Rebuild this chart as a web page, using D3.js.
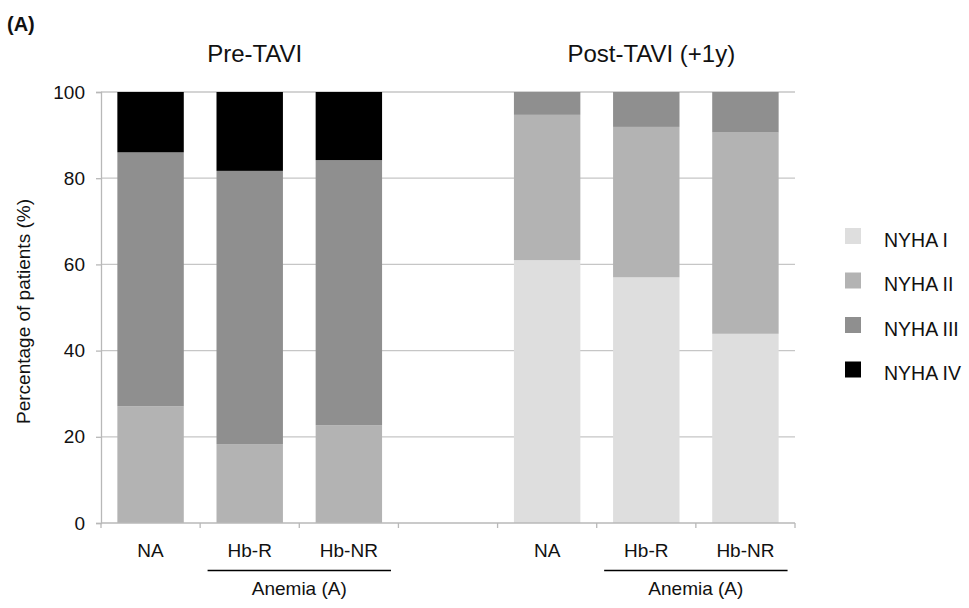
<!DOCTYPE html>
<html>
<head>
<meta charset="utf-8">
<script src="https://cdn.jsdelivr.net/npm/d3@7/dist/d3.min.js"></script>
<style>
  html, body { margin: 0; padding: 0; background: #fff; }
  svg { display: block; font-family: "Liberation Sans", Arial, sans-serif; }
</style>
</head>
<body>
<svg id="chart" width="969" height="608"></svg>
<script>
// Slots along the x axis: three pre-TAVI groups, an empty spacer, three post-TAVI groups
const slots = ["pre-NA", "pre-HbR", "pre-HbNR", "gap", "post-NA", "post-HbR", "post-HbNR"];
const slotLabels = ["NA", "Hb-R", "Hb-NR", "", "NA", "Hb-R", "Hb-NR"];
const barSlots = ["pre-NA", "pre-HbR", "pre-HbNR", "post-NA", "post-HbR", "post-HbNR"];

// Percentage of patients in each NYHA class
const nyhaI   = [0,    0,    0,    61.0, 57.0, 43.9];
const nyhaII  = [27.1, 18.3, 22.7, 33.7, 34.9, 46.7];
const nyhaIII = [58.9, 63.4, 61.5, 5.3,  8.1,  9.4];
const nyhaIV  = [14.0, 18.3, 15.8, 0,    0,    0];

const seriesNames = ["NYHA I", "NYHA II", "NYHA III", "NYHA IV"];
const seriesColors = ["#dedede", "#b3b3b3", "#8f8f8f", "#000000"];
const yTicks = [0, 20, 40, 60, 80, 100];

const rows = barSlots.map((s, i) => ({
  slot: s,
  "NYHA I": nyhaI[i], "NYHA II": nyhaII[i], "NYHA III": nyhaIII[i], "NYHA IV": nyhaIV[i]
}));

const svg = d3.select("#chart");
const plotLeft = 101, plotRight = 795, plotTop = 92, plotBottom = 523;
const textColor = "#111";
const axisGray = "#b8b8b8";

const x = d3.scaleBand().domain(slots).range([plotLeft, plotRight]).paddingInner(0.33).paddingOuter(0.165);
const y = d3.scaleLinear().domain([0, 100]).range([plotBottom, plotTop]);
const color = d3.scaleOrdinal().domain(seriesNames).range(seriesColors);

// Horizontal gridlines
svg.append("g")
  .selectAll("line")
  .data(yTicks.filter(t => t > 0))
  .join("line")
  .attr("x1", plotLeft).attr("x2", plotRight)
  .attr("y1", d => y(d)).attr("y2", d => y(d))
  .attr("stroke", "#c6c6c6").attr("stroke-width", 1.3);

// Stacked bars
const stacked = d3.stack().keys(seriesNames)(rows);
svg.append("g")
  .selectAll("g")
  .data(stacked)
  .join("g")
  .attr("fill", d => color(d.key))
  .selectAll("rect")
  .data(d => d)
  .join("rect")
  .attr("x", d => x(d.data.slot))
  .attr("width", x.bandwidth())
  .attr("y", d => y(d[1]))
  .attr("height", d => y(d[0]) - y(d[1]));

// Y axis
const yAxis = svg.append("g")
  .attr("transform", `translate(${plotLeft},0)`)
  .call(d3.axisLeft(y).tickValues(yTicks).tickSize(5).tickPadding(11));
yAxis.select(".domain").attr("stroke", axisGray).attr("stroke-width", 1.3);
yAxis.selectAll(".tick line").attr("stroke", axisGray).attr("stroke-width", 1.3);
yAxis.selectAll(".tick text").attr("font-size", 19).attr("fill", textColor)
  .attr("font-family", "Liberation Sans, Arial, sans-serif");

// X axis with ticks at band boundaries
const step = x.step();
const boundaries = d3.range(slots.length + 1).map(i => plotLeft + i * step);
svg.append("line")
  .attr("x1", plotLeft).attr("x2", plotRight).attr("y1", plotBottom).attr("y2", plotBottom)
  .attr("stroke", axisGray).attr("stroke-width", 1.3);
svg.append("g").selectAll("line").data(boundaries).join("line")
  .attr("x1", d => d).attr("x2", d => d)
  .attr("y1", plotBottom).attr("y2", plotBottom + 5)
  .attr("stroke", axisGray).attr("stroke-width", 1.3);

svg.append("g").selectAll("text").data(slots).join("text")
  .attr("x", d => x(d) + x.bandwidth() / 2)
  .attr("y", 557)
  .attr("text-anchor", "middle")
  .attr("font-size", 19).attr("fill", textColor)
  .text((d, i) => slotLabels[i]);

// Anemia grouping brackets
const groups = [["pre-HbR", "pre-HbNR"], ["post-HbR", "post-HbNR"]];
groups.forEach(([a, b]) => {
  const x1 = x(a) - step * 0.09, x2 = x(b) + x.bandwidth() + step * 0.09;
  svg.append("line").attr("x1", x1).attr("x2", x2).attr("y1", 570.5).attr("y2", 570.5)
    .attr("stroke", "#000").attr("stroke-width", 1.4);
  svg.append("text").attr("x", (x(a) + x(b) + x.bandwidth()) / 2).attr("y", 595)
    .attr("text-anchor", "middle").attr("font-size", 19).attr("fill", textColor)
    .text("Anemia (A)");
});

// Panel titles
svg.append("text").attr("x", (x("pre-NA") + x("pre-HbNR") + x.bandwidth()) / 2 + 5).attr("y", 62)
  .attr("text-anchor", "middle").attr("font-size", 24).attr("fill", textColor).text("Pre-TAVI");
svg.append("text").attr("x", (x("post-NA") + x("post-HbNR") + x.bandwidth()) / 2 + 5).attr("y", 62)
  .attr("text-anchor", "middle").attr("font-size", 24).attr("fill", textColor).text("Post-TAVI (+1y)");

// Panel tag
svg.append("text").attr("x", 7).attr("y", 31).attr("font-size", 20).attr("font-weight", "bold")
  .attr("fill", textColor).text("(A)");

// Y axis title
svg.append("text")
  .attr("transform", `translate(30,${(plotTop + plotBottom) / 2 + 4}) rotate(-90)`)
  .attr("text-anchor", "middle").attr("font-size", 19).attr("fill", textColor)
  .text("Percentage of patients (%)");

// Legend
const legend = svg.append("g").selectAll("g").data(seriesNames).join("g")
  .attr("transform", (d, i) => `translate(845,${228 + i * 44.5})`);
legend.append("rect").attr("width", 16).attr("height", 16).attr("fill", d => color(d));
legend.append("text").attr("x", 39).attr("y", 18.5).attr("font-size", 19.5).attr("fill", textColor).text(d => d);
</script>
</body>
</html>
